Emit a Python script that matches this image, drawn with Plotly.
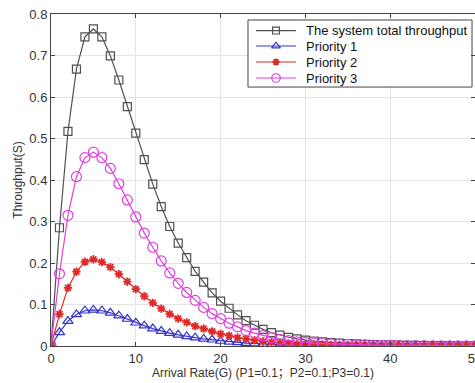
import plotly.graph_objects as go

G = list(range(0, 51))

total = [0, 0.285, 0.517, 0.667, 0.745, 0.764, 0.745, 0.699, 0.641, 0.577,
         0.513, 0.449, 0.390, 0.336, 0.288, 0.248, 0.213, 0.180, 0.154, 0.128,
         0.108, 0.091, 0.075, 0.061, 0.050, 0.040, 0.032, 0.026, 0.021, 0.017,
         0.014, 0.012, 0.010, 0.008, 0.007, 0.006, 0.005, 0.004, 0.0035, 0.003,
         0.0025, 0.002, 0.0017, 0.0014, 0.0012, 0.001, 0.0008, 0.0007, 0.0006, 0.0005,
         0.0004]

p3 = [0, 0.174, 0.315, 0.408, 0.454, 0.467, 0.454, 0.428, 0.391, 0.352,
      0.311, 0.272, 0.238, 0.205, 0.176, 0.151, 0.129, 0.110, 0.093, 0.078,
      0.066, 0.055, 0.046, 0.037, 0.031, 0.025, 0.020, 0.016, 0.013, 0.010,
      0.0085, 0.007, 0.006, 0.005, 0.0043, 0.0037, 0.003, 0.0025, 0.0021, 0.0018,
      0.0015, 0.0012, 0.001, 0.0009, 0.0007, 0.0006, 0.0005, 0.0004, 0.0004, 0.0003,
      0.0002]

p2 = [0, 0.077, 0.140, 0.179, 0.203, 0.209, 0.202, 0.190, 0.173, 0.155,
      0.137, 0.120, 0.104, 0.090, 0.077, 0.066, 0.057, 0.048, 0.042, 0.035,
      0.029, 0.025, 0.020, 0.017, 0.014, 0.011, 0.009, 0.007, 0.006, 0.0046,
      0.0038, 0.003, 0.0027, 0.0022, 0.0019, 0.0016, 0.0013, 0.0011, 0.0009, 0.0008,
      0.0007, 0.0005, 0.0005, 0.0004, 0.0003, 0.0003, 0.0002, 0.0002, 0.0002, 0.0001,
      0.0001]

p1 = [0, 0.033, 0.060, 0.076, 0.085, 0.087, 0.085, 0.080, 0.073, 0.065,
      0.056, 0.049, 0.042, 0.036, 0.031, 0.027, 0.023, 0.020, 0.017, 0.015,
      0.012, 0.010, 0.0085, 0.007, 0.006, 0.0046, 0.0037, 0.003, 0.0024, 0.002,
      0.0016, 0.0013, 0.0011, 0.0009, 0.0008, 0.0007, 0.0005, 0.0004, 0.0004, 0.0003,
      0.0003, 0.0002, 0.0002, 0.0002, 0.0001, 0.0001, 0.0001, 0.0001, 0.0001, 0.0001,
      0.0001]

names = ["The system total throughput", "Priority 1", "Priority 2", "Priority 3"]
x_ticks = [0, 10, 20, 30, 40, 50]
y_ticks = [0, 0.1, 0.2, 0.3, 0.4, 0.5, 0.6, 0.7, 0.8]
y_tick_text = ["0", "0.1", "0.2", "0.3", "0.4", "0.5", "0.6", "0.7", "0.8"]

FONT = "Arial, Liberation Sans, Noto Sans CJK SC, sans-serif"

series = [total, p1, p2, p3]
colors = ["#505050", "#3535cc", "#e02828", "#e040e0"]
symbols = ["square-open", "triangle-up-open", "asterisk-open", "circle-open"]
msizes = [8, 9, 7, 10]
mlw = [1.2, 1.2, 1.8, 1.2]

fig = go.Figure()
for ys, nm, c, s, ms, lw in zip(series, names, colors, symbols, msizes, mlw):
    fig.add_trace(go.Scatter(x=G, y=ys, name=nm, mode="lines+markers", showlegend=False,
                             line=dict(color=c, width=1.2),
                             marker=dict(symbol=s, size=ms, color=c, line=dict(width=lw, color=c))))

# custom legend (drawn on an invisible overlay axis in plot-fraction units)
LEG_X0, LEG_X1, LEG_Y0, LEG_Y1 = 0.4646, 0.993, 0.780, 0.982
LEG_ROWS = [0.950, 0.9036, 0.8554, 0.8072]
LEG_LINE_X = [0.4835, 0.5778]
LEG_MARK_X = 0.5307
LEG_TEXT_X = 0.597

fig.add_trace(go.Scatter(x=[LEG_X0, LEG_X1, LEG_X1, LEG_X0, LEG_X0],
                         y=[LEG_Y0, LEG_Y0, LEG_Y1, LEG_Y1, LEG_Y0],
                         xaxis="x2", yaxis="y2", mode="lines", fill="toself",
                         fillcolor="white", line=dict(color="#444444", width=1),
                         showlegend=False, hoverinfo="skip"))
for ry, nm, c, s, ms, lw in zip(LEG_ROWS, names, colors, symbols, msizes, mlw):
    fig.add_trace(go.Scatter(x=LEG_LINE_X, y=[ry, ry], xaxis="x2", yaxis="y2", mode="lines",
                             line=dict(color=c, width=1.2), showlegend=False, hoverinfo="skip"))
    fig.add_trace(go.Scatter(x=[LEG_MARK_X], y=[ry], xaxis="x2", yaxis="y2", mode="markers",
                             marker=dict(symbol=s, size=ms * 0.85, color=c, line=dict(width=lw, color=c)),
                             showlegend=False, hoverinfo="skip"))
    fig.add_annotation(x=LEG_TEXT_X, y=ry, xref="x2", yref="y2", text=nm, showarrow=False,
                       xanchor="left", yanchor="middle",
                       font=dict(family=FONT, size=13, color="#111111"))

axis_common = dict(showgrid=True, gridcolor="#e4e4e4", gridwidth=1,
                   showline=True, linecolor="#444444", linewidth=1, mirror="ticks",
                   ticks="inside", ticklen=4, tickcolor="#444444",
                   tickfont=dict(family=FONT, size=13, color="#333333"),
                   zeroline=False, ticklabeloverflow="allow", automargin=False)

fig.update_layout(
    width=475, height=383,
    margin=dict(l=51, r=0, t=14, b=37),
    paper_bgcolor="white", plot_bgcolor="white",
    font=dict(family=FONT, color="#333333"),
    xaxis=dict(range=[0, 50], tickvals=x_ticks, ticktext=[str(v) for v in x_ticks],
               title=dict(text="Arrival Rate(G) (P1=0.1；P2=0.1;P3=0.1)",
                          font=dict(family=FONT, size=12, color="#333333"), standoff=2),
               **axis_common),
    yaxis=dict(range=[0, 0.8], tickvals=y_ticks, ticktext=y_tick_text,
               title=dict(text="Throughput(S)",
                          font=dict(family=FONT, size=12, color="#333333"), standoff=4),
               **axis_common),
    xaxis2=dict(overlaying="x", range=[0, 1], visible=False, anchor="y2"),
    yaxis2=dict(overlaying="y", range=[0, 1], visible=False, anchor="x2"),
    showlegend=False,
)

fig.write_html("out.html")
